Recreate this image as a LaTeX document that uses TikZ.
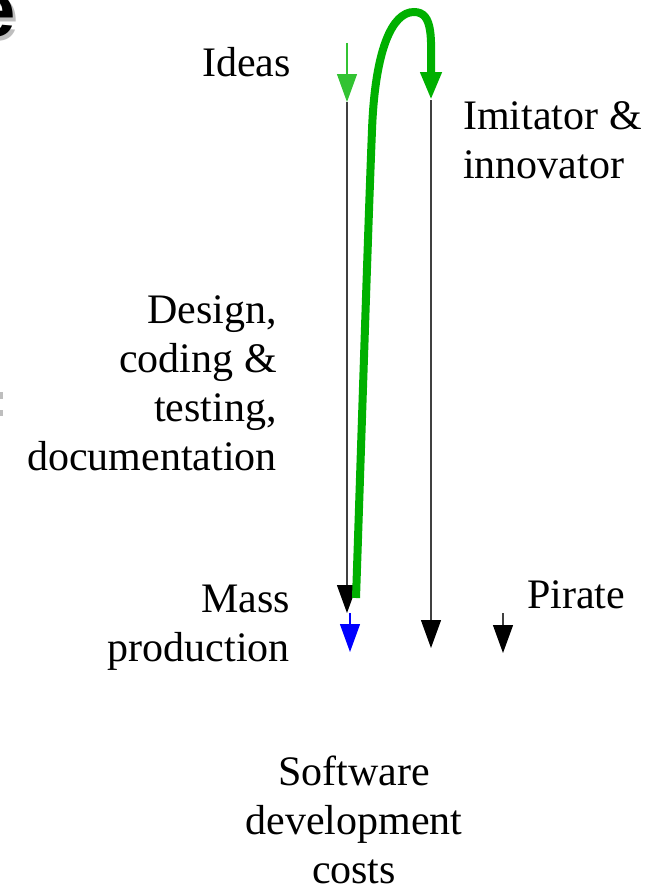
\documentclass[tikz,border=0pt]{standalone}
\usepackage{fontspec}
\setmainfont{Liberation Serif}
\newfontfamily\titlefont{Liberation Sans}
\usetikzlibrary{arrows.meta}
\definecolor{gthick}{RGB}{0,176,0}
\definecolor{gthin}{RGB}{50,195,50}
\definecolor{shadowgray}{RGB}{190,190,190}
\begin{document}
\begin{tikzpicture}[x=1pt,y=-1pt,
  lbl/.style={font=\fontsize{42}{49}\selectfont, inner sep=0pt},
  title/.style={font=\titlefont\bfseries\fontsize{78}{80}\selectfont, inner sep=0pt, anchor=base east},
  thinline/.style={line width=1.2pt},
  tip/.style={-{Triangle[width=20pt,length=28pt]}},
  blacktip/.style={-{Triangle[width=20pt,length=28pt,black]}},
  thick green/.style={line width=8pt, draw=gthick, -{Triangle[width=20pt,length=28pt]}, color=gthick}
]
\useasboundingbox (0,0) rectangle (661,891);
\begin{scope}
\clip (0,0) rectangle (661,891);
% fragment of the slide title
\node[title, text=shadowgray] (eshadow) at (19,41) {e};
\node[title] (etitle) at (16,37) {e};
\fill[shadowgray] (0,392) rectangle (3,399);
\fill[shadowgray] (0,410) rectangle (3,416);
\end{scope}

% coordinates
\coordinate (ideasTop) at (347,43);
\coordinate (ideasTip) at (347,102);
\coordinate (massTip) at (347,613);
\coordinate (blueTop) at (350,613);
\coordinate (blueTip) at (350,652);
\coordinate (imiTop) at (431,100);
\coordinate (imiTip) at (431,648);
\coordinate (pirTop) at (503,613);
\coordinate (pirTip) at (503,653);
\coordinate (gStart) at (356,598);
\coordinate (gMid) at (372,130);
\coordinate (gTop) at (414,12);
\coordinate (gTip) at (431,100);

% thin arrows
\draw[thinline, gthin, tip] (ideasTop) -- (ideasTip);
\draw[thinline, black!75, blacktip] (ideasTip) -- (massTip);
\draw[thinline, blue, tip] (blueTop) -- (blueTip);
\draw[thinline, black!75, blacktip] (imiTop) -- (imiTip);
\draw[thinline, black!75, blacktip] (pirTop) -- (pirTip);

% thick green loop
\draw[thick green] (gStart) .. controls (362,420) and (368,230) .. (gMid)
   .. controls (375,50) and (392,12) .. (gTop)
   .. controls (434,12) and (431,40) .. (gTip);

% labels (multi-line nodes: base = last line)
\node[lbl, anchor=base east] (ideas) at (291,77) {Ideas};
\node[lbl, anchor=base west, align=left] (imitator) at (463,178) {Imitator \&\\innovator};
\node[lbl, anchor=base east, align=right] (design) at (277,470) {Design,\\coding \&\\testing,\\documentation};
\node[lbl, anchor=base east, align=right] (mass) at (290,661) {Mass\\production};
\node[lbl, anchor=base west] (pirate) at (527,608) {Pirate};
\node[lbl, anchor=base, align=center] (costs) at (354,883) {Software\\development\\costs};
\end{tikzpicture}
\end{document}
